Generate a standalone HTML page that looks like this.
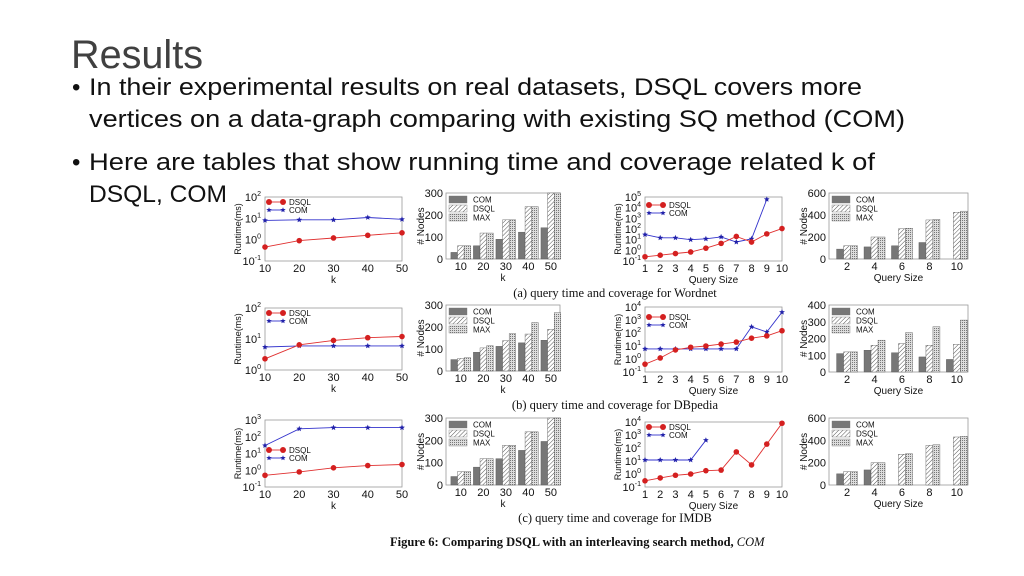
<!DOCTYPE html>
<html><head><meta charset="utf-8"><style>
html,body{margin:0;padding:0;background:#fff;}
svg{display:block;}
</style></head><body>
<svg id="slide" width="1024" height="576" viewBox="0 0 1024 576" xmlns="http://www.w3.org/2000/svg" font-family="Liberation Sans, sans-serif">
<defs>
<pattern id="hatchD" patternUnits="userSpaceOnUse" width="3" height="3" patternTransform="rotate(45)"><rect width="3" height="3" fill="#fff"/><line x1="0" y1="0" x2="0" y2="3" stroke="#555" stroke-width="1"/></pattern>
<pattern id="hatchM" patternUnits="userSpaceOnUse" width="2" height="2"><rect width="2" height="2" fill="#ddd"/><rect width="1" height="1" fill="#777"/></pattern>
</defs>
<text x="71" y="68" font-size="40" fill="#404040" textLength="132" lengthAdjust="spacingAndGlyphs">Results</text>
<g font-size="24" fill="#111">
<text x="72" y="95">•</text>
<text x="89" y="95" textLength="773" lengthAdjust="spacingAndGlyphs">In their experimental results on real datasets, DSQL covers more</text>
<text x="89" y="127" textLength="816" lengthAdjust="spacingAndGlyphs">vertices on a data-graph comparing with existing SQ method (COM)</text>
<text x="72" y="170">•</text>
<text x="89" y="170" textLength="786" lengthAdjust="spacingAndGlyphs">Here are tables that show running time and coverage related k of</text>
<text x="89" y="202" textLength="138" lengthAdjust="spacingAndGlyphs">DSQL, COM</text>
</g>
<g id="charts"></g>
<g font-family="Liberation Serif, serif" fill="#111">
<text x="615" y="297" font-size="12.5" text-anchor="middle">(a) query time and coverage for Wordnet</text>
<text x="615" y="409" font-size="12.5" text-anchor="middle">(b) query time and coverage for DBpedia</text>
<text x="615" y="522" font-size="12.5" text-anchor="middle">(c) query time and coverage for IMDB</text>
<text x="390" y="546" font-size="12.5" font-weight="bold">Figure 6: Comparing DSQL with an interleaving search method, <tspan font-style="italic" font-weight="normal">COM</tspan></text>
</g>
</svg>
<script>
const kCats=[10,20,30,40,50];
const qCats=[1,2,3,4,5,6,7,8,9,10];
const qBarCats=[2,4,6,8,10];
// Wordnet
const wnKDsql=[0.45,0.9,1.2,1.6,2.1];
const wnKCom=[8,8.5,8.5,11,9];
const wnKNodesCom=[30,60,90,122,142];
const wnKNodesDsql=[60,118,178,238,300];
const wnKNodesMax=[60,118,178,238,300];
const wnQDsql=[0.25,0.35,0.5,0.7,1.6,4.5,20,6,35,110];
const wnQCom=[30,15,15,10,12,18,6,12,60000];
const wnQNodesCom=[90,110,120,150,0];
const wnQNodesDsql=[120,200,275,355,425];
const wnQNodesMax=[120,200,280,360,435];
// DBpedia
const dbKDsql=[2.3,6.5,9,11,12];
const dbKCom=[5.5,6,6,6,6];
const dbKNodesCom=[52,85,112,128,140];
const dbKNodesDsql=[57,105,138,168,190];
const dbKNodesMax=[60,115,170,220,265];
const dbQDsql=[0.4,1.2,5,8,10,14,20,40,60,150];
const dbQCom=[6,6,6,6,6,6,6,300,120,4000];
const dbQNodesCom=[110,130,115,90,75];
const dbQNodesDsql=[120,160,170,160,165];
const dbQNodesMax=[120,190,235,270,310];
// IMDB
const imKDsql=[0.5,0.8,1.4,1.9,2.2];
const imKCom=[30,300,350,350,350];
const imKNodesCom=[38,80,118,155,195];
const imKNodesDsql=[60,118,178,238,300];
const imKNodesMax=[60,118,178,238,300];
const imQDsql=[0.3,0.5,0.8,1,1.8,2,50,5,200,8000];
const imQCom=[12,12,12,12,400];
const imQNodesCom=[100,135,0,0,0];
const imQNodesDsql=[120,200,275,355,430];
const imQNodesMax=[120,200,280,360,435];

const NS='http://www.w3.org/2000/svg';
const root=document.getElementById('charts');
function mk(tag,attrs,parent){const e=document.createElementNS(NS,tag);for(const k in attrs)e.setAttribute(k,attrs[k]);(parent||root).appendChild(e);return e;}

function frame(g,x0,x1,y0,y1){
  mk('rect',{x:x0,y:y0,width:x1-x0,height:y1-y0,fill:'none',stroke:'#999','stroke-width':0.8},g);
}
function star(g,cx,cy,r,col){
  let p=[];for(let i=0;i<10;i++){const a=-Math.PI/2+i*Math.PI/5;const rr=i%2?r*0.45:r;p.push((cx+rr*Math.cos(a)).toFixed(1)+','+(cy+rr*Math.sin(a)).toFixed(1));}
  mk('polygon',{points:p.join(' '),fill:col},g);
}
function lineChart(name,P,cats,dsql,com,legendY,xlabel){
  const g=mk('g',{});
  
  
  const xs=v=>P.x0+(v-cats[0])/(cats[cats.length-1]-cats[0])*(P.x1-P.x0);
  const ys=v=>P.y1-(Math.log10(v)-P.lmin)/(P.lmax-P.lmin)*(P.y1-P.y0);
  frame(g,P.x0,P.x1,P.y0,P.y1);
  for(let e=P.lmin;e<=P.lmax;e++){
    const y=ys(Math.pow(10,e));
    const t=mk('text',{x:P.x0-4,y:y+4,'font-size':11,'text-anchor':'end',fill:'#111'},g);
    t.textContent='10';
    const s=mk('tspan',{dy:-5,'font-size':7},t);s.textContent=String(e);
  }
  cats.forEach(c=>{const t=mk('text',{x:xs(c),y:P.y1+11,'font-size':11,'text-anchor':'middle',fill:'#111'},g);t.textContent=c;});
  const xl=mk('text',{x:(P.x0+P.x1)/2,y:P.y1+22,'font-size':10,'text-anchor':'middle',fill:'#111'},g);xl.textContent=xlabel;
  const yl=mk('text',{x:0,y:0,'font-size':9,'text-anchor':'middle',fill:'#111',transform:`translate(${P.x0-24},${(P.y0+P.y1)/2}) rotate(-90)`},g);yl.textContent='Runtime(ms)';
  const pts=(arr)=>arr.map((v,i)=>xs(cats[i]).toFixed(1)+','+ys(v).toFixed(1)).join(' ');
  const lc=mk('polyline',{points:pts(com),fill:'none',stroke:'#3333cc','stroke-width':0.9},g);
  
  com.forEach((v,i)=>star(g,xs(cats[i]),ys(v),3,'#2222aa'));
  const ld=mk('polyline',{points:pts(dsql),fill:'none',stroke:'#e03030','stroke-width':0.9},g);
  
  dsql.forEach((v,i)=>{const c=mk('circle',{cx:xs(cats[i]),cy:ys(v),r:2.8,fill:'#d42020'},g);});
  const lg=mk('g',{},g);
  
  
  const lx=P.x0+4,ly=legendY;
  mk('line',{x1:lx,y1:ly,x2:lx+14,y2:ly,stroke:'#e03030','stroke-width':0.9},lg);
  mk('circle',{cx:lx,cy:ly,r:3,fill:'#d42020'},lg);mk('circle',{cx:lx+14,cy:ly,r:3,fill:'#d42020'},lg);
  let t=mk('text',{x:lx+20,y:ly+3,'font-size':8,fill:'#111'},lg);t.textContent='DSQL';
  mk('line',{x1:lx,y1:ly+8,x2:lx+14,y2:ly+8,stroke:'#3333cc','stroke-width':0.9},lg);
  star(lg,lx,ly+8,2.8,'#2222aa');star(lg,lx+14,ly+8,2.8,'#2222aa');
  t=mk('text',{x:lx+20,y:ly+11,'font-size':8,fill:'#111'},lg);t.textContent='COM';
}
function barChart(name,P,cats,com,dsql,mx,ymax,step,xlabel){
  const g=mk('g',{});
  
  
  const n=cats.length;const W=P.x1-P.x0;
  const first=P.x0+0.13*W,last=P.x1-0.08*W;
  const gw=(last-first)/(n-1);
  const xc=i=>first+gw*i;
  const ys=v=>P.y1-v/ymax*(P.y1-P.y0);
  frame(g,P.x0,P.x1,P.y0,P.y1);
  for(let v=0;v<=ymax;v+=step){const t=mk('text',{x:P.x0-3,y:ys(v)+4,'font-size':11,'text-anchor':'end',fill:'#111'},g);t.textContent=v;}
  cats.forEach((c,i)=>{const t=mk('text',{x:xc(i),y:P.y1+11,'font-size':11,'text-anchor':'middle',fill:'#111'},g);t.textContent=c;});
  const xl=mk('text',{x:(P.x0+P.x1)/2,y:P.y1+22,'font-size':10,'text-anchor':'middle',fill:'#111'},g);xl.textContent=xlabel;
  const yl=mk('text',{x:0,y:0,'font-size':10,'text-anchor':'middle',fill:'#111',transform:`translate(${P.x0-22},${(P.y0+P.y1)/2}) rotate(-90)`},g);yl.textContent='# Nodes';
  const bw=Math.min(7,gw/3.4);
  const series=[[com,'#777','com'],[dsql,'url(#hatchD)','dsql'],[mx,'url(#hatchM)','max']];
  series.forEach((s,k)=>{s[0].forEach((v,i)=>{
    if(v<=0)return;
    const x=xc(i)+(k-1.5)*bw;
    const r=mk('rect',{x:x,y:ys(v),width:bw,height:P.y1-ys(v),fill:s[1],stroke:'#555','stroke-width':0.4},g);
    
  });});
  const lg=mk('g',{},g);
  
  
  const lx=P.x0+3;
  [['COM','#777'],['DSQL','url(#hatchD)'],['MAX','url(#hatchM)']].forEach((e,k)=>{
    const y=P.y0+3+k*9;
    mk('rect',{x:lx,y:y,width:18,height:7,fill:e[1],stroke:'#777','stroke-width':0.4},lg);
    const t=mk('text',{x:lx+24,y:y+6.5,'font-size':8,fill:'#111'},lg);t.textContent=e[0];
  });
}
const rows=[
 {kP:{x0:265,x1:402,y0:197,y1:261,lmin:-1,lmax:2},kNP:{x0:446,x1:560,y0:193,y1:259},qP:{x0:645,x1:782,y0:197,y1:261,lmin:-1,lmax:5},qNP:{x0:829,x1:968,y0:193,y1:259},
  kd:wnKDsql,kc:wnKCom,knc:wnKNodesCom,knd:wnKNodesDsql,knm:wnKNodesMax,qd:wnQDsql,qc:wnQCom,qnc:wnQNodesCom,qnd:wnQNodesDsql,qnm:wnQNodesMax,kmax:300,kstep:100,qmax:600,qstep:200,kLeg:202,qLeg:205,tag:'wordnet'},
 {kP:{x0:265,x1:402,y0:308,y1:370,lmin:0,lmax:2},kNP:{x0:446,x1:560,y0:305,y1:371},qP:{x0:645,x1:782,y0:307,y1:372,lmin:-1,lmax:4},qNP:{x0:829,x1:968,y0:305,y1:372},
  kd:dbKDsql,kc:dbKCom,knc:dbKNodesCom,knd:dbKNodesDsql,knm:dbKNodesMax,qd:dbQDsql,qc:dbQCom,qnc:dbQNodesCom,qnd:dbQNodesDsql,qnm:dbQNodesMax,kmax:300,kstep:100,qmax:400,qstep:100,kLeg:313,qLeg:317,tag:'dbpedia'},
 {kP:{x0:265,x1:402,y0:420,y1:487,lmin:-1,lmax:3},kNP:{x0:446,x1:560,y0:418,y1:485},qP:{x0:645,x1:782,y0:422,y1:487,lmin:-1,lmax:4},qNP:{x0:829,x1:968,y0:418,y1:485},
  kd:imKDsql,kc:imKCom,knc:imKNodesCom,knd:imKNodesDsql,knm:imKNodesMax,qd:imQDsql,qc:imQCom,qnc:imQNodesCom,qnd:imQNodesDsql,qnm:imQNodesMax,kmax:300,kstep:100,qmax:600,qstep:200,kLeg:450,qLeg:427,tag:'imdb'}
];
rows.forEach(r=>{
  lineChart(r.tag+'-runtime-vs-k',r.kP,kCats,r.kd,r.kc,r.kLeg,'k');
  barChart(r.tag+'-nodes-vs-k',r.kNP,kCats,r.knc,r.knd,r.knm,r.kmax,r.kstep,'k');
  lineChart(r.tag+'-runtime-vs-query-size',r.qP,qCats,r.qd,r.qc,r.qLeg,'Query Size');
  barChart(r.tag+'-nodes-vs-query-size',r.qNP,qBarCats,r.qnc,r.qnd,r.qnm,r.qmax,r.qstep,'Query Size');
});
</script>
</body></html>
